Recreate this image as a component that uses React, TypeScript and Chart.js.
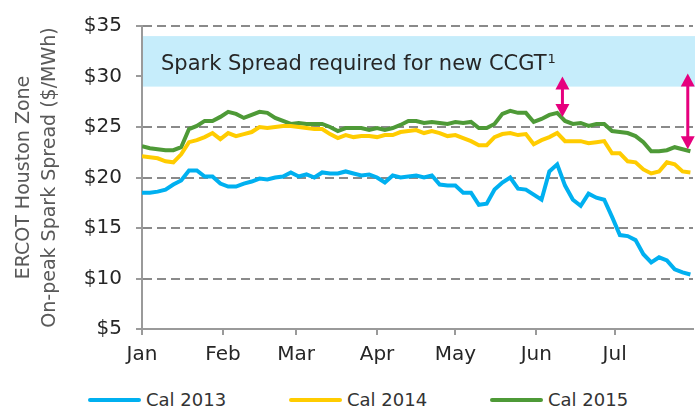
import React, { useEffect, useRef } from "react";
import { Chart, registerables } from "chart.js";

Chart.register(...registerables);

const FONT = '"DejaVu Sans", Verdana, sans-serif';

const monthLabels = ["Jan", "Feb", "Mar", "Apr", "May", "Jun", "Jul"];
const monthStartDays = [0, 31, 59, 90, 120, 151, 181];
const axisEndDay = 211;
const yTicks = [5, 10, 15, 20, 25, 30, 35];

const days = [
  0, 3, 6, 9, 12, 15, 18, 21, 24, 27, 30, 33, 36, 39, 42, 45, 48, 51, 54, 57,
  60, 63, 66, 69, 72, 75, 78, 81, 84, 87, 90, 93, 96, 99, 102, 105, 108, 111,
  114, 117, 120, 123, 126, 129, 132, 135, 138, 141, 144, 147, 150, 153, 156,
  159, 162, 165, 168, 171, 174, 177, 180, 183, 186, 189, 192, 195, 198, 201,
  204, 207, 210,
];

const cal2013 = [
  18.5, 18.5, 18.6, 18.8, 19.3, 19.7, 20.7, 20.7, 20.1, 20.1, 19.4, 19.1, 19.1,
  19.4, 19.6, 19.9, 19.8, 20.0, 20.1, 20.5, 20.1, 20.3, 20.0, 20.5, 20.4, 20.4,
  20.6, 20.4, 20.2, 20.3, 20.0, 19.5, 20.2, 20.0, 20.1, 20.2, 20.0, 20.2, 19.3,
  19.2, 19.2, 18.5, 18.5, 17.3, 17.4, 18.8, 19.5, 20.0, 18.9, 18.8, 18.3, 17.8,
  20.6, 21.3, 19.2, 17.8, 17.2, 18.4, 18.0, 17.8, 16.1, 14.3, 14.2, 13.8, 12.4,
  11.6, 12.1, 11.8, 10.9, 10.6, 10.4,
];

const cal2014 = [
  22.1, 22.0, 21.9, 21.6, 21.5, 22.3, 23.5, 23.7, 24.0, 24.4, 23.8, 24.4, 24.1,
  24.3, 24.5, 25.0, 24.9, 25.0, 25.1, 25.1, 25.0, 24.9, 24.8, 24.8, 24.3, 23.9,
  24.2, 24.0, 24.1, 24.1, 24.0, 24.2, 24.2, 24.5, 24.6, 24.7, 24.4, 24.6, 24.4,
  24.1, 24.2, 23.9, 23.6, 23.2, 23.2, 24.0, 24.3, 24.4, 24.2, 24.3, 23.3, 23.7,
  24.0, 24.4, 23.6, 23.6, 23.6, 23.4, 23.5, 23.6, 22.4, 22.4, 21.6, 21.5, 20.8,
  20.4, 20.6, 21.5, 21.3, 20.6, 20.5,
];

const cal2015 = [
  23.1, 22.9, 22.8, 22.7, 22.7, 23.0, 24.8, 25.1, 25.6, 25.6, 26.0, 26.5, 26.3,
  25.9, 26.2, 26.5, 26.4, 25.9, 25.6, 25.3, 25.4, 25.3, 25.3, 25.3, 25.0, 24.6,
  24.9, 24.9, 24.9, 24.7, 24.9, 24.7, 24.9, 25.2, 25.6, 25.6, 25.4, 25.5, 25.4,
  25.3, 25.5, 25.4, 25.5, 24.9, 24.9, 25.3, 26.3, 26.6, 26.4, 26.4, 25.5, 25.8,
  26.2, 26.4, 25.6, 25.3, 25.4, 25.1, 25.3, 25.3, 24.6, 24.5, 24.4, 24.1, 23.5,
  22.6, 22.6, 22.7, 23.0, 22.8, 22.6,
];

const seriesLabels = ["Cal 2013", "Cal 2014", "Cal 2015"];
const seriesValues = [cal2013, cal2014, cal2015];
const seriesColors = ["#00b0f0", "#ffcc00", "#4e9a37"];

const yTitle = ["ERCOT Houston Zone", "On-peak Spark Spread ($/MWh)"];
const bandRange = [29, 34];
const bandText = "Spark Spread required for new CCGT";
const bandNote = "1";
const arrowDays = [161, 209];
const arrowTops = [30, 30.3];
const arrowBottoms = [26.0, 22.8];

const bandPlugin = {
  id: "band",
  beforeDatasetsDraw(chart: any) {
    const { ctx, chartArea, scales } = chart;
    const y = scales.y;
    const yTop = y.getPixelForValue(bandRange[1]);
    const yBot = y.getPixelForValue(bandRange[0]);
    ctx.save();
    ctx.fillStyle = "#c6edfb";
    ctx.fillRect(chartArea.left + 1, yTop, chart.width - chartArea.left - 1, yBot - yTop);
    ctx.fillStyle = "#262626";
    ctx.font = `21px ${FONT}`;
    ctx.textBaseline = "alphabetic";
    ctx.textAlign = "left";
    const tx = chartArea.left + 19;
    const ty = yBot - 16.5;
    ctx.fillText(bandText, tx, ty);
    const w = ctx.measureText(bandText).width;
    ctx.font = `13px ${FONT}`;
    ctx.fillText(bandNote, tx + w + 1, ty - 7);
    ctx.restore();
  },
};

const arrowPlugin = {
  id: "arrows",
  afterDatasetsDraw(chart: any) {
    const { ctx, scales } = chart;
    const color = "#e6007e";
    const head = 13;
    const half = 7;
    ctx.save();
    ctx.fillStyle = color;
    ctx.strokeStyle = color;
    ctx.lineWidth = 3;
    arrowDays.forEach((d, i) => {
      const x = scales.x.getPixelForValue(d);
      const yT = scales.y.getPixelForValue(arrowTops[i]);
      const yB = scales.y.getPixelForValue(arrowBottoms[i]);
      ctx.beginPath();
      ctx.moveTo(x, yT + head - 1);
      ctx.lineTo(x, yB - head + 1);
      ctx.stroke();
      ctx.beginPath();
      ctx.moveTo(x, yT);
      ctx.lineTo(x - half, yT + head);
      ctx.lineTo(x + half, yT + head);
      ctx.closePath();
      ctx.fill();
      ctx.beginPath();
      ctx.moveTo(x, yB);
      ctx.lineTo(x - half, yB - head);
      ctx.lineTo(x + half, yB - head);
      ctx.closePath();
      ctx.fill();
    });
    ctx.restore();
  },
};

export default function App() {
  const canvasRef = useRef<HTMLCanvasElement | null>(null);

  useEffect(() => {
    document.body.style.margin = "0";
    const canvas = canvasRef.current;
    if (!canvas) return;
    const chart = new Chart(canvas, {
      type: "line",
      data: {
        datasets: seriesLabels.map((label, i) => ({
          label,
          data: days.map((d, j) => ({ x: d, y: seriesValues[i][j] })),
          borderColor: seriesColors[i],
          backgroundColor: seriesColors[i],
          borderWidth: 4,
          pointRadius: 0,
          tension: 0,
          fill: false,
        })),
      },
      options: {
        animation: false,
        responsive: true,
        maintainAspectRatio: false,
        layout: { padding: { top: 14, right: 2, left: 0, bottom: 0 } },
        plugins: {
          legend: { display: false },
          tooltip: { enabled: false },
        },
        scales: {
          x: {
            type: "linear",
            min: 0,
            max: axisEndDay,
            afterBuildTicks: (s: any) => {
              s.ticks = monthStartDays.map((v) => ({ value: v }));
            },
            afterFit: (s: any) => {
              s.height = 46;
            },
            ticks: {
              callback: (v: any) => {
                const k = monthStartDays.indexOf(Number(v));
                return k >= 0 ? monthLabels[k] : "";
              },
              font: { family: FONT, size: 20 },
              color: "#262626",
              padding: 8,
              maxRotation: 0,
              autoSkip: false,
            },
            grid: {
              drawOnChartArea: false,
              drawTicks: true,
              tickLength: 6,
              color: "#9a9a9a",
              lineWidth: 2,
            },
            border: { display: true, color: "#9a9a9a", width: 2 },
          },
          y: {
            type: "linear",
            min: 5,
            max: 35,
            afterBuildTicks: (s: any) => {
              s.ticks = yTicks.map((v) => ({ value: v }));
            },
            afterFit: (s: any) => {
              s.width = 142;
            },
            ticks: {
              callback: (v: any) => "$" + v,
              font: { family: FONT, size: 20 },
              color: "#262626",
              padding: 14,
            },
            grid: {
              color: (c: any) => (c.tick && c.tick.value === 5 ? "rgba(0,0,0,0)" : "#8a8a8a"),
              lineWidth: 2,
              tickLength: 6,
              tickColor: "#9a9a9a",
              tickWidth: 2,
            },
            border: { display: true, color: "#9a9a9a", width: 2, dash: [9, 5] },
            title: {
              display: true,
              text: yTitle,
              font: { family: FONT, size: 19, lineHeight: 1.32 },
              color: "#595959",
              padding: { top: 12, bottom: 0 },
            },
          },
        },
      },
      plugins: [bandPlugin, arrowPlugin],
    } as any);
    return () => chart.destroy();
  }, []);

  return (
    <div style={{ width: 695, height: 410, background: "#fff" }}>
      <div style={{ position: "relative", width: 695, height: 375 }}>
        <canvas ref={canvasRef} />
      </div>
      <div style={{ position: "relative", width: 695, height: 35 }}>
        {seriesLabels.map((label, i) => (
          <div
            key={label}
            style={{
              position: "absolute",
              left: 88 + i * 201,
              top: 15,
              height: 20,
              display: "flex",
              alignItems: "center",
            }}
          >
            <span
              style={{
                display: "inline-block",
                width: 53,
                height: 4,
                borderRadius: 2,
                background: seriesColors[i],
              }}
            />
            <span
              style={{
                marginLeft: 5,
                fontFamily: FONT,
                fontSize: 18,
                lineHeight: "20px",
                color: "#333",
              }}
            >
              {label}
            </span>
          </div>
        ))}
      </div>
    </div>
  );
}
